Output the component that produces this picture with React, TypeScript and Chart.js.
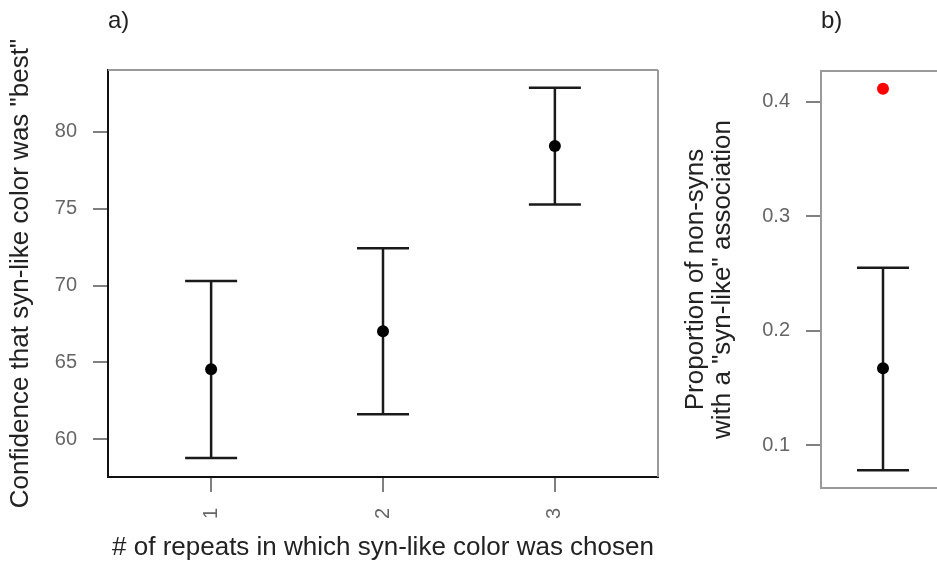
import React, { useEffect, useRef } from "react";
import { Chart, registerables } from "chart.js";

Chart.register(...registerables);

const FONT = '"Liberation Sans", Arial, Helvetica, sans-serif';

// ---- Panel a data ----
const repeatsA = [1, 2, 3];
const meanA = [64.56, 67.03, 79.07];
const lowerA = [58.78, 61.63, 75.27];
const upperA = [70.3, 72.43, 82.86];
const yTicksA = [60, 65, 70, 75, 80];
const xTicksA = [1, 2, 3];

// ---- Panel b data ----
const groupB = [1];
const meanB = [0.167];
const lowerB = [0.078];
const upperB = [0.255];
const redB = [0.4114];
const yTicksB = [0.1, 0.2, 0.3, 0.4];

const TICK_COLOR = "#666666";
const FRAME_GREY = "#9a9a9a";
const TEXT_DARK = "#222222";

function errorBarPlugin(xs: number[], lo: number[], hi: number[], cap: number) {
  return {
    id: "errorBars",
    beforeDatasetsDraw(chart: any) {
      const { ctx } = chart;
      const x = chart.scales.x;
      const y = chart.scales.y;
      ctx.save();
      ctx.strokeStyle = "#1a1a1a";
      ctx.lineWidth = 2.5;
      xs.forEach((xv, i) => {
        const px = x.getPixelForValue(xv);
        const pl = y.getPixelForValue(lo[i]);
        const ph = y.getPixelForValue(hi[i]);
        ctx.beginPath();
        ctx.moveTo(px, pl);
        ctx.lineTo(px, ph);
        ctx.moveTo(px - cap, pl);
        ctx.lineTo(px + cap, pl);
        ctx.moveTo(px - cap, ph);
        ctx.lineTo(px + cap, ph);
        ctx.stroke();
      });
      ctx.restore();
    },
  };
}

function framePlugin(sides: string[]) {
  return {
    id: "frame",
    afterDraw(chart: any) {
      const { ctx, chartArea: a } = chart;
      ctx.save();
      ctx.strokeStyle = FRAME_GREY;
      ctx.lineWidth = 2;
      ctx.beginPath();
      if (sides.includes("top")) {
        ctx.moveTo(a.left, a.top);
        ctx.lineTo(a.right, a.top);
      }
      if (sides.includes("right")) {
        ctx.moveTo(a.right, a.top);
        ctx.lineTo(a.right, a.bottom);
      }
      ctx.stroke();
      ctx.restore();
    },
  };
}

export default function App() {
  const refA = useRef<HTMLCanvasElement>(null);
  const refB = useRef<HTMLCanvasElement>(null);

  useEffect(() => {
    const chartA = new Chart(refA.current as HTMLCanvasElement, {
      type: "scatter",
      data: {
        datasets: [
          {
            data: repeatsA.map((r, i) => ({ x: r, y: meanA[i] })),
            backgroundColor: "#000000",
            borderWidth: 0,
            pointRadius: 6,
          },
        ],
      },
      options: {
        responsive: false,
        animation: false,
        layout: { padding: { left: 0, right: 102, top: 0, bottom: 0 } },
        plugins: {
          legend: { display: false },
          tooltip: { enabled: false },
          title: {
            display: true,
            text: "a)",
            align: "start",
            fullSize: false,
            color: TEXT_DARK,
            font: { family: FONT, size: 24, weight: "normal", lineHeight: 1.2 },
            padding: { top: 6.6, bottom: 34.6 },
          },
        },
        scales: {
          x: {
            type: "linear",
            min: 0.4,
            max: 3.6,
            afterBuildTicks: (s: any) => {
              s.ticks = xTicksA.map((v) => ({ value: v }));
            },
            afterFit: (s: any) => {
              s.height = 84;
            },
            ticks: {
              autoSkip: false,
              minRotation: 90,
              maxRotation: 90,
              padding: 16,
              color: TICK_COLOR,
              font: { family: FONT, size: 20 },
              callback: (v: any) => String(v),
            },
            grid: {
              display: true,
              drawOnChartArea: false,
              drawTicks: true,
              tickLength: 15,
              color: "#808080",
              lineWidth: 2,
            },
            border: { display: true, color: "#111111", width: 2 },
            title: {
              display: true,
              text: "# of repeats in which syn-like color was chosen",
              color: TEXT_DARK,
              font: { family: FONT, size: 26, lineHeight: 1 },
              padding: { top: 0, bottom: 0 },
            },
          },
          y: {
            type: "linear",
            min: 57.55,
            max: 84.02,
            afterBuildTicks: (s: any) => {
              s.ticks = yTicksA.map((v) => ({ value: v }));
            },
            afterFit: (s: any) => {
              s.width = 108;
            },
            ticks: {
              padding: 16,
              color: TICK_COLOR,
              font: { family: FONT, size: 20 },
              callback: (v: any) => String(v),
            },
            grid: {
              display: true,
              drawOnChartArea: false,
              drawTicks: true,
              tickLength: 15,
              color: "#808080",
              lineWidth: 2,
            },
            border: { display: true, color: "#111111", width: 2 },
            title: {
              display: true,
              text: 'Confidence that syn-like color was "best"',
              color: TEXT_DARK,
              font: { family: FONT, size: 26, lineHeight: 1 },
              padding: { top: 8, bottom: 0 },
            },
          },
        },
      },
      plugins: [errorBarPlugin(repeatsA, lowerA, upperA, 26), framePlugin(["top", "right"])],
    } as any);

    const chartB = new Chart(refB.current as HTMLCanvasElement, {
      type: "scatter",
      data: {
        datasets: [
          {
            data: groupB.map((g, i) => ({ x: g, y: meanB[i] })),
            backgroundColor: "#000000",
            borderWidth: 0,
            pointRadius: 6,
          },
          {
            data: groupB.map((g, i) => ({ x: g, y: redB[i] })),
            backgroundColor: "#ff0000",
            borderWidth: 0,
            pointRadius: 6,
          },
        ],
      },
      options: {
        responsive: false,
        animation: false,
        layout: { padding: { left: 0, right: 15, top: 0, bottom: 0 } },
        plugins: {
          legend: { display: false },
          tooltip: { enabled: false },
          title: {
            display: true,
            text: "b)",
            align: "start",
            fullSize: false,
            color: TEXT_DARK,
            font: { family: FONT, size: 24, weight: "normal", lineHeight: 1.2 },
            padding: { top: 6.6, bottom: 35.6 },
          },
        },
        scales: {
          x: {
            type: "linear",
            min: 0.5,
            max: 1.5,
            afterFit: (s: any) => {
              s.height = 73;
            },
            ticks: { display: false },
            grid: { display: false },
            border: { display: true, color: FRAME_GREY, width: 2 },
          },
          y: {
            type: "linear",
            min: 0.0624,
            max: 0.427,
            afterBuildTicks: (s: any) => {
              s.ticks = yTicksB.map((v) => ({ value: v }));
            },
            afterFit: (s: any) => {
              s.width = 161;
            },
            ticks: {
              padding: 16,
              color: TICK_COLOR,
              font: { family: FONT, size: 20 },
              callback: (v: any) => Number(v).toFixed(1),
            },
            grid: {
              display: true,
              drawOnChartArea: false,
              drawTicks: true,
              tickLength: 15,
              color: "#808080",
              lineWidth: 2,
            },
            border: { display: true, color: FRAME_GREY, width: 2 },
            title: {
              display: true,
              text: ["Proportion of non-syns", 'with a "syn-like" association'],
              color: TEXT_DARK,
              font: { family: FONT, size: 26, lineHeight: 1.05 },
              padding: { top: 22, bottom: 0 },
            },
          },
        },
      },
      plugins: [errorBarPlugin(groupB, lowerB, upperB, 26), framePlugin(["top", "right"])],
    } as any);

    return () => {
      chartA.destroy();
      chartB.destroy();
    };
  }, []);

  return (
    <div
      style={{
        position: "fixed",
        left: 0,
        top: 0,
        width: 937,
        height: 561,
        overflow: "hidden",
        background: "#ffffff",
      }}
    >
      <canvas
        ref={refA}
        width={760}
        height={561}
        style={{ position: "absolute", left: 0, top: 0, width: 760, height: 561 }}
      />
      <canvas
        ref={refB}
        width={300}
        height={561}
        style={{ position: "absolute", left: 660, top: 0, width: 300, height: 561 }}
      />
    </div>
  );
}
